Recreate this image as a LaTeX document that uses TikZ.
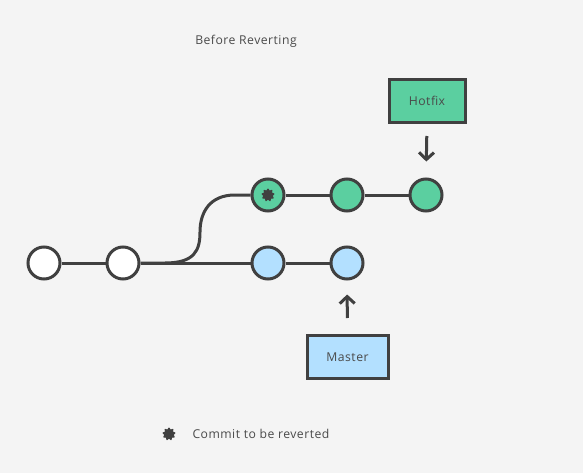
\documentclass[tikz,border=0pt]{standalone}
\usepackage{fontspec}
\setmainfont[LetterSpace=4]{Open Sans}
\usetikzlibrary{positioning, arrows.meta, shapes.geometric}
\definecolor{color_back}{HTML}{F4F4F4}
\definecolor{color_line}{HTML}{404040}
\definecolor{color_text}{HTML}{4A4A4A}
\definecolor{color_hotfix}{HTML}{5BCFA0}
\definecolor{color_master}{HTML}{B3E0FF}
\tikzset{
  commit_dot/.style={circle, draw=color_line, line width=3pt, fill=white, minimum size=32pt, inner sep=0pt},
  hotfix_dot/.style={commit_dot, fill=color_hotfix},
  master_dot/.style={commit_dot, fill=color_master},
  branch_line/.style={draw=color_line, line width=3pt},
  branch_box/.style={draw=color_line, line width=3pt, minimum width=76pt, minimum height=43pt, inner sep=0pt, font=\fontsize{12.2}{14}\selectfont, text=color_text},
  pointer_arrow/.style={-{Straight Barb[length=7pt, width=15pt, line width=3pt]}, draw=color_line, line width=3pt},
  figure_label/.style={font=\fontsize{12.2}{14}\selectfont, text=color_text},
  revert_mark/.style={star, star points=9, star point ratio=1.45, fill=color_line, draw=color_line, line width=1pt, line join=round, minimum size=12pt, inner sep=0pt},
}
\begin{document}
\begin{tikzpicture}[x=1pt, y=-1pt]
    % Background
    \fill[color_back] (0,0) rectangle (583,473);
    \useasboundingbox (0,0) rectangle (583,473);
    \node[figure_label] (title) at (246,41) {Before Reverting};
    % Master line
    \node[commit_dot] (commit_a) at (44,263) {};
    \node[commit_dot] (commit_b) at (123,263) {};
    \node[master_dot] (master_c) at (268,263) {};
    \node[master_dot] (master_d) at (347,263) {};
    % Hotfix line
    \node[hotfix_dot] (hotfix_c) at (268,195) {};
    \node[hotfix_dot] (hotfix_d) at (347,195) {};
    \node[hotfix_dot] (hotfix_e) at (426,195) {};
    \node[revert_mark] (revert_c) at (hotfix_c) {};
    % Edges
    \draw[branch_line] (commit_a) -- (commit_b);
    \draw[branch_line] (commit_b) -- (master_c);
    \draw[branch_line] (master_c) -- (master_d);
    \draw[branch_line] (commit_b.east) -- (165,263)
      .. controls (195,263) and (200,250) .. (200,232)
      .. controls (200,212) and (210,195) .. (235,195) -- (hotfix_c.west);
    \draw[branch_line] (hotfix_c) -- (hotfix_d);
    \draw[branch_line] (hotfix_d) -- (hotfix_e);
    % Branch labels
    \node[branch_box, fill=color_hotfix] (hotfix_label) at (427,101) {Hotfix};
    \node[branch_box, fill=color_master, minimum width=81pt] (master_label) at (347.5,357) {Master};
    \draw[pointer_arrow, shorten <=12pt, shorten >=16pt] (hotfix_label.south) -- (hotfix_e.north);
    \draw[pointer_arrow, shorten <=16pt, shorten >=14pt] (master_label.north) -- (master_d.south);
    % Legend
    \node[revert_mark] (legend_mark) at (169,434) {};
    \node[figure_label, anchor=west] (legend_text) at (189,434) {Commit to be reverted};
  \end{tikzpicture}
\end{document}
